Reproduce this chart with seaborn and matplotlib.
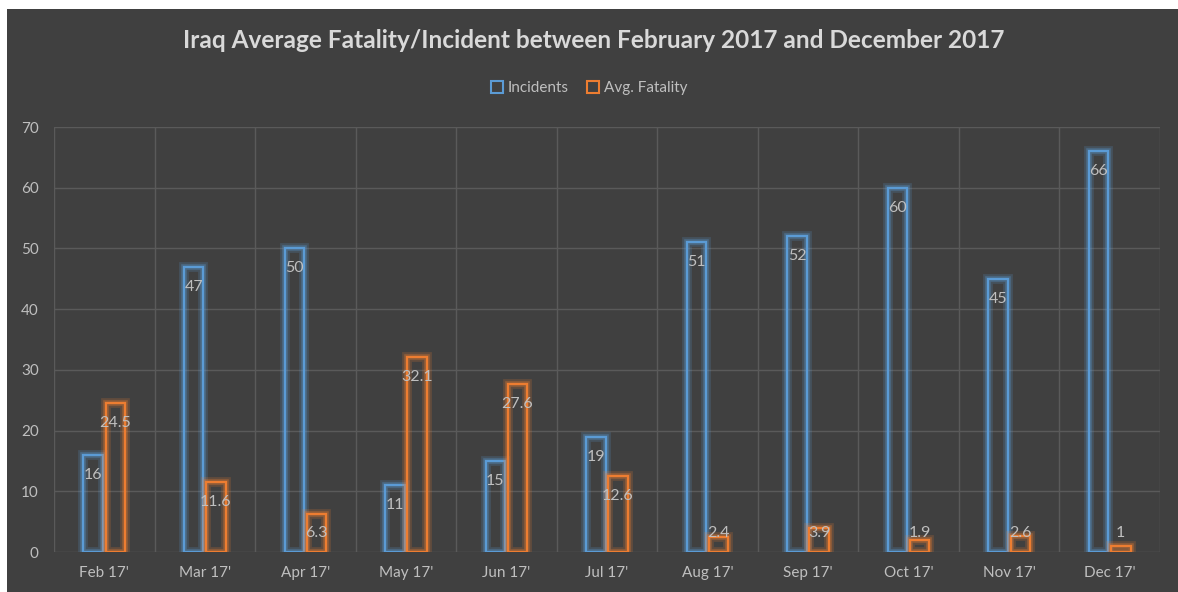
import matplotlib
matplotlib.use("Agg")
import matplotlib.pyplot as plt
import matplotlib.patheffects as pe
from matplotlib.patches import Rectangle
import numpy as np
import pandas as pd
import seaborn as sns

months = ["Feb 17'", "Mar 17'", "Apr 17'", "May 17'", "Jun 17'", "Jul 17'",
          "Aug 17'", "Sep 17'", "Oct 17'", "Nov 17'", "Dec 17'"]
incidents = [16, 47, 50, 11, 15, 19, 51, 52, 60, 45, 66]
avg_fatality = [24.5, 11.6, 6.3, 32.1, 27.6, 12.6, 2.4, 3.9, 1.9, 2.6, 1]
series = ["Incidents", "Avg. Fatality"]

df = pd.DataFrame({
    "month": months * 2,
    "value": incidents + avg_fatality,
    "series": [series[0]] * len(months) + [series[1]] * len(months),
})

bg = "#404040"
grid_c = "#5a5a5a"
txt_c = "#bfbfbf"
blue = "#5b9bd5"
orange = "#ed7d31"

sns.set_style("dark")
plt.rcParams["font.family"] = ["Lato", "DejaVu Sans"]

fig = plt.figure(figsize=(11.78, 5.92), dpi=100, facecolor=bg)
# white strips at the top and left like the screenshot
fig.patches.append(Rectangle((0, 1 - 9 / 592), 1, 9 / 592, transform=fig.transFigure,
                             facecolor="white", edgecolor="none", zorder=0))
fig.patches.append(Rectangle((0, 0), 7 / 1178, 1, transform=fig.transFigure,
                             facecolor="white", edgecolor="none", zorder=0))

ax = fig.add_axes([54 / 1178, 40 / 592, 1106 / 1178, 425 / 592])
ax.set_facecolor(bg)

sns.barplot(data=df, x="month", y="value", hue="series", hue_order=series,
            palette=[blue, orange], fill=False, width=0.44, gap=0.12,
            linewidth=1.6, ax=ax, legend=False, errorbar=None)

glow = [pe.Stroke(linewidth=7, alpha=0.2), pe.Stroke(linewidth=4, alpha=0.35), pe.Normal()]
for p in ax.patches:
    p.set_path_effects(glow)

# data labels
for cont, vals in zip(ax.containers, [incidents, avg_fatality]):
    for bar, v in zip(cont, vals):
        cx = bar.get_x() + bar.get_width() / 2
        ypos = max(v - 3.3, 3.1)
        ax.text(cx, ypos, f"{v:g}", ha="center", va="center",
                color=txt_c, fontsize=11.5)

ax.set_ylim(0, 70)
ax.set_xlim(-0.5, len(months) - 0.5)
ax.set_yticks(range(0, 71, 10))
ax.set_xticks(np.arange(len(months)))
ax.set_xticks(np.arange(len(months) + 1) - 0.5, minor=True)
ax.grid(True, axis="y", color=grid_c, linewidth=1)
ax.grid(True, axis="x", which="minor", color=grid_c, linewidth=1)
ax.grid(False, axis="x", which="major")
ax.set_axisbelow(True)
for s in ax.spines.values():
    s.set_visible(False)
ax.tick_params(axis="both", which="both", length=0, colors=txt_c, labelsize=11)
ax.tick_params(axis="x", pad=10)
ax.tick_params(axis="y", pad=11)
ax.set_xlabel("")
ax.set_ylabel("")

fig.text(594 / 1178, 1 - 41 / 592, "Iraq Average Fatality/Incident between February 2017 and December 2017",
         ha="center", va="center", color="#d9d9d9", fontsize=17.6, fontweight="bold")

handles = [Rectangle((0, 0), 1, 1, facecolor="none", edgecolor=c, linewidth=1.5) for c in [blue, orange]]
fig.legend(handles, series, loc="center", bbox_to_anchor=(0.5, 1 - 88 / 592), ncol=2,
           frameon=False, fontsize=11, labelcolor=txt_c, handlelength=0.8, handleheight=0.8,
           handletextpad=0.3, columnspacing=1.2)

fig.savefig("out.png", dpi=100, facecolor=fig.get_facecolor())
